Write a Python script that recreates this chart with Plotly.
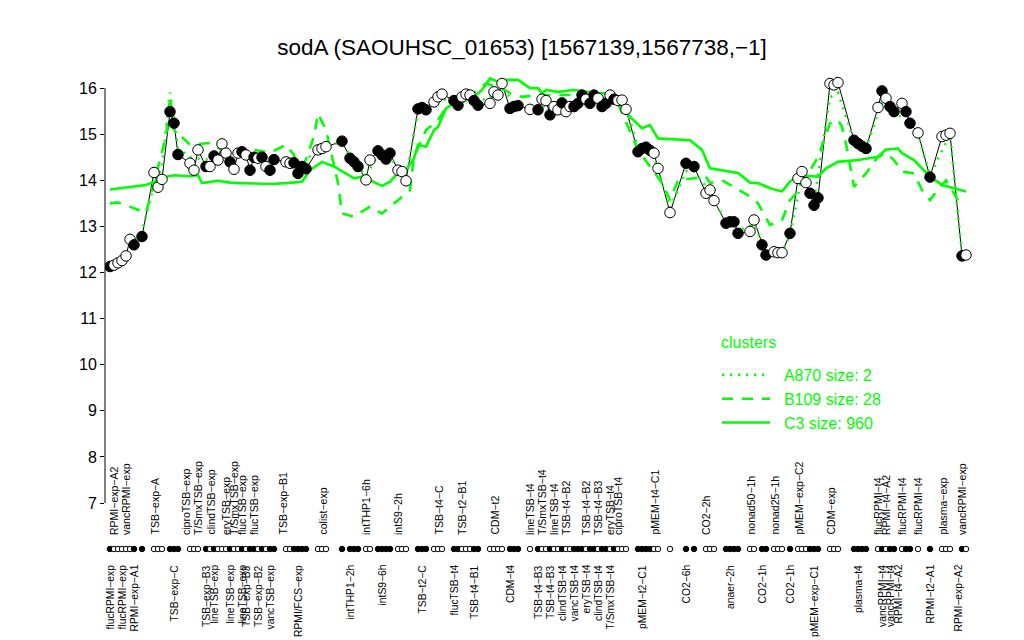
import plotly.graph_objects as go

# ---------------- data ----------------
# expression value per condition index (None = condition not shown)
values = [
    12.13, 12.16, 12.21, 12.26, 12.36, 12.72, 12.60, None, 12.78, None,
    None, 14.17, 13.85, 14.02, None, 15.49, 15.24, 14.56, None, None,
    14.37, 14.22, 14.66, None, 14.30, 14.30, 14.53, 14.44, 14.79, 14.59,
    14.40, 14.24, 14.59, 14.62, 14.55, 14.22, 14.50, 14.48, 14.50, 14.30,
    14.22, 14.45, None, None, 14.40, 14.37, 14.38, 14.15, 14.30, 14.25,
    None, None, 14.66, 14.69, 14.73, None, None, None, 14.85, None,
    14.48, 14.40, 14.30, None, 14.01, 14.44, None, 14.64, 14.55, 14.46,
    14.59, None, 14.22, 14.19, 13.99, None, None, 15.55, 15.58, 15.53,
    None, 15.70, 15.81, 15.87, None, None, 15.73, 15.63, 15.81, 15.87,
    15.85, 15.73, 15.63, None, None, 15.67, 15.92, 15.85, 16.10, None,
    15.56, 15.60, 15.62, None, None, 15.54, None, 15.53, 15.76, 15.73,
    15.42, 15.60, 15.53, 15.68, 15.49, 15.60, 15.60, 15.67, 15.85, 15.76,
    15.67, 15.85, 15.78, 15.60, 15.67, 15.85, 15.76, 15.73, 15.74, 15.54,
    None, None, 14.62, 14.69, 14.72, 14.65, 14.59, 14.26, None, None,
    13.30, None, None, None, 14.37, None, 14.30, None, None, 13.72,
    13.79, 13.56, None, None, 13.07, 13.10, 13.10, 12.85, None, None,
    12.89, 13.14, None, 12.60, 12.38, None, 12.45, 12.43, 12.43, None,
    12.85, None, 14.04, 14.19, 13.95, 13.72, 13.46, 13.62, None, None,
    16.10, 16.07, 16.12, None, None, None, 14.87, 14.80, 14.74, 14.69,
    None, None, 15.58, 15.94, 15.78, 15.60, 15.49, None, 15.67, 15.49,
    15.24, None, 15.03, None, None, 14.07, None, None, 14.95, 14.98,
    15.02, None, None, 12.36, 12.38,
]
# 1 = filled marker, 0 = open marker
filled = [
    1, 0, 0, 0, 0, 0, 1, None, 1, None,
    None, 0, 0, 0, None, 1, 1, 1, None, None,
    0, 0, 0, None, 1, 0, 1, 0, 0, 0,
    1, 0, 0, 1, 0, 1, 1, 0, 1, 0,
    1, 1, None, None, 0, 0, 1, 1, 1, 1,
    None, None, 0, 0, 0, None, None, None, 1, None,
    1, 1, 1, None, 0, 0, None, 1, 1, 1,
    1, None, 0, 0, 0, None, None, 1, 1, 1,
    None, 0, 0, 0, None, None, 1, 1, 0, 0,
    0, 1, 1, None, None, 0, 0, 0, 0, None,
    1, 1, 1, None, None, 0, None, 1, 0, 0,
    1, 0, 0, 1, 0, 0, 1, 1, 1, 0,
    1, 1, 0, 1, 1, 0, 1, 0, 0, 0,
    None, None, 1, 1, 1, 1, 0, 0, None, None,
    0, None, None, None, 1, None, 1, None, None, 0,
    0, 0, None, None, 1, 1, 1, 1, None, None,
    0, 0, None, 1, 1, None, 0, 0, 0, None,
    1, None, 0, 0, 0, 1, 1, 1, None, None,
    0, 0, 0, None, None, None, 1, 1, 1, 1,
    None, None, 0, 1, 0, 1, 1, None, 0, 1,
    1, None, 0, None, None, 1, None, None, 0, 0,
    0, None, None, 1, 0,
]

# cluster mean profiles: condition index -> value
c3_idx = [0, 5, 9, 12, 14, 16, 20, 22, 23, 27, 30, 33, 40, 44, 48, 50, 53, 56, 58, 61, 63, 66, 68, 70, 72, 74,
          76, 77, 79, 81, 82, 84, 86, 88, 91, 93, 95, 97, 99, 102, 105, 107, 108, 109, 112, 116, 119, 122,
          126, 127, 130, 133, 135, 137, 145, 148, 150, 155, 157, 160, 162, 165, 168, 170, 172, 177, 179,
          182, 187, 192, 194, 197, 198, 201, 205, 208, 211, 214]
c3_val = [13.80, 13.85, 13.90, 14.00, 14.08, 14.11, 14.09, 14.11, 13.94, 13.99, 13.95, 13.94, 13.92, 13.94,
          13.97, 14.22, 14.40, 14.30, 14.19, 14.04, 14.08, 13.97, 13.88, 13.97, 14.16, 14.22, 14.48, 14.77,
          14.73, 15.09, 15.16, 15.56, 15.67, 15.70, 15.81, 15.96, 16.21, 16.14, 16.18, 16.18, 16.00, 16.00,
          15.89, 15.96, 15.92, 15.96, 15.92, 15.89, 15.89, 15.67, 15.38, 15.13, 15.20, 14.91, 14.87, 14.66,
          14.26, 14.19, 14.16, 13.95, 13.94, 13.83, 13.76, 13.97, 14.11, 14.08, 14.26, 14.40, 14.44, 14.51,
          14.67, 14.69, 14.59, 14.44, 14.08, 13.90, 13.83, 13.76]

b109_idx = [0, 2, 5, 9, 14, 15, 16, 17, 20, 25, 30, 33, 36, 40, 44, 46, 47, 48, 51, 52, 54, 57, 58, 61, 65,
            68, 72, 75, 76, 79, 82, 85, 88, 94, 98, 100, 103, 107, 115, 122, 127, 130, 132, 135, 138, 140,
            142, 149, 150, 153, 158, 160, 162, 165, 168, 170, 172, 177, 180, 182, 183, 184, 186, 189, 192,
            194, 196, 198, 201, 203, 205, 207, 209, 212, 213]
b109_val = [13.50, 13.52, 13.43, 13.29, 14.95, 15.80, 15.09, 15.02, 14.77, 14.81, 14.55, 14.66, 14.66, 14.60,
            14.77, 14.55, 14.07, 14.22, 14.95, 15.45, 15.09, 13.94, 13.28, 13.21, 13.43, 13.28, 13.57, 13.79,
            14.51, 15.09, 15.31, 15.70, 15.70, 16.10, 16.00, 15.89, 15.81, 15.85, 15.85, 15.82, 15.67, 15.05,
            14.66, 14.30, 13.94, 13.57, 14.00, 14.08, 13.94, 14.00, 13.76, 13.65, 13.50, 13.03, 13.14, 13.57,
            13.76, 14.51, 15.24, 15.31, 15.16, 14.80, 13.86, 14.15, 14.51, 14.59, 14.44, 14.19, 14.15, 13.79,
            13.57, 13.80, 14.00, 13.57, 13.46]

a870_idx = [0, 3, 5, 8, 11, 13, 15, 17, 20, 24, 28, 32, 36, 40, 44, 48, 52, 54, 58, 62, 64, 67, 70, 74, 77,
            82, 86, 90, 94, 98, 102, 107, 112, 117, 122, 127, 129, 132, 136, 140, 144, 146, 150, 154, 157,
            161, 164, 168, 170, 173, 176, 180, 182, 186, 189, 193, 196, 200, 202, 205, 210, 213]
a870_val = [12.05, 12.25, 12.55, 12.90, 13.90, 14.30, 15.90, 14.70, 14.50, 14.45, 14.60, 14.55, 14.50, 14.40,
            14.45, 14.30, 14.75, 14.80, 14.80, 14.30, 14.10, 14.55, 14.50, 14.05, 15.50, 15.80, 15.70, 15.80,
            15.75, 16.00, 15.60, 15.60, 15.60, 15.70, 15.75, 15.70, 15.60, 14.70, 14.50, 13.40, 14.20, 14.20,
            13.75, 13.10, 12.90, 13.05, 12.45, 12.45, 12.80, 14.10, 13.55, 15.80, 15.90, 14.85, 14.70, 15.70,
            15.50, 15.20, 15.00, 14.10, 15.00, 12.40]

# condition labels (index -> name), drawn below and above the marker strip
labels_bottom = {
    0: "flucRPMI-exp", 3: "flucRPMI-exp", 6: "RPMI-exp-A1", 16: "TSB-exp-C", 24: "TSB-exp-B3",
    26: "lineTSB-exp", 30: "lineTSB-exp", 33: "lineTSB-exp", 34: "TSB-exp-B3", 37: "TSB-exp-B2",
    40: "vancTSB-exp", 47: "RPMI/FCS-exp", 60: "intTHP1-2h", 68: "intS9-6h", 78: "TSB-t2-C",
    86: "flucTSB-t4", 91: "TSB-t4-B1", 100: "CDM-t4", 107: "TSB-t4-B3", 110: "TSB-t4-B3",
    113: "clindTSB-t4", 116: "vancTSB-t4", 119: "eryTSB-t4", 122: "clindTSB-t4", 125: "T/SmxTSB-t4",
    133: "pMEM-t2-C1", 144: "CO2-6h", 155: "anaer-2h", 163: "CO2-1h", 170: "CO2-1h",
    176: "pMEM-exp-C1", 187: "plasma-t4", 193: "vancRPMI-t4", 195: "vancRPMI-t4", 197: "RPMI-t4-A2",
    205: "RPMI-t2-A1", 212: "RPMI-exp-A2",
}
labels_top = {
    1: "RPMI-exp-A2", 4: "vancRPMI-exp", 11: "TSB-exp-A", 19: "ciproTSB-exp", 22: "T/SmxTSB-exp",
    25: "clindTSB-exp", 29: "eryTSB-exp", 31: "T/SmxTSB-exp", 33: "flucTSB-exp", 36: "flucTSB-exp",
    43: "TSB-exp-B1", 53: "colist-exp", 64: "intTHP1-6h", 72: "intS9-2h", 82: "TSB-t4-C",
    88: "TSB-t2-B1", 96: "CDM-t2", 105: "lineTSB-t4", 108: "T/SmxTSB-t4", 111: "lineTSB-t4",
    114: "TSB-t4-B2", 119: "TSB-t4-B2", 122: "TSB-t4-B3", 125: "eryTSB-t4", 127: "ciproTSB-t4",
    136: "pMEM-t4-C1", 149: "CO2-2h", 160: "nonad50-1h", 166: "nonad25-1h", 172: "pMEM-exp-C2",
    180: "CDM-exp", 192: "flucRPMI-t4", 194: "RPMI-t4-A2", 198: "flucRPMI-t4", 202: "flucRPMI-t4",
    208: "plasma-exp", 213: "vancRPMI-exp",
}

title_text = "sodA (SAOUHSC_01653) [1567139,1567738,-1]"
legend_title = "clusters"
clusters = [("A870 size: 2", "dot"), ("B109 size: 28", "dash"), ("C3 size: 960", "solid")]

# ---------------- figure ----------------
OFF = 8                 # default body margin of the html page
W, H = 1024 - OFF, 640 - OFF
GREEN = "#00ff00"
FONT = "Liberation Sans, Arial, Helvetica, sans-serif"


def fx(px):             # screen px -> paper x
    return (px - OFF) / W


def fy(py):             # screen px -> paper y
    return (H - (py - OFF)) / H


def minus(s):
    return s.replace("-", "\u2212")


idx = [i for i, v in enumerate(values) if v is not None]
yv = [values[i] for i in idx]
fills = ["black" if filled[i] else "white" for i in idx]

fig = go.Figure()

# profile line
fig.add_trace(go.Scatter(x=idx, y=yv, mode="lines", line=dict(color="black", width=1),
                         showlegend=False, hoverinfo="skip"))

dash_map = {"dot": "2px,6px", "dash": "11px,9px", "solid": "solid"}
cluster_data = {"A870 size: 2": (a870_idx, a870_val),
                "B109 size: 28": (b109_idx, b109_val),
                "C3 size: 960": (c3_idx, c3_val)}
for name, style in clusters:
    cx, cy = cluster_data[name]
    fig.add_trace(go.Scatter(x=cx, y=cy, mode="lines", name="\u00a0\u00a0" + name,
                             line=dict(color=GREEN, width=2.6, dash=dash_map[style])))

# markers
fig.add_trace(go.Scatter(x=idx, y=yv, mode="markers", showlegend=False,
                         marker=dict(size=10.5, color=fills, line=dict(color="black", width=1))))

# strip of markers under the plot
fig.add_trace(go.Scatter(x=idx, y=[0.5] * len(idx), yaxis="y2", mode="markers", showlegend=False,
                         marker=dict(size=5.5, color=fills, line=dict(color="black", width=1))))

px_l, px_r = 105, 972
x0_px, step = 110, 4.0
n = len(values)
xr = [-(x0_px - px_l) / step, (n - 1) + (px_r - (x0_px + step * (n - 1))) / step]

ann = []
for i, t in labels_bottom.items():
    ann.append(dict(x=i, y=fy(563), xref="x", yref="paper", text=minus(t), textangle=-90,
                    showarrow=False, xanchor="center", yanchor="top",
                    font=dict(size=10.3, color="black", family=FONT)))
for i, t in labels_top.items():
    ann.append(dict(x=i, y=fy(537), xref="x", yref="paper", text=minus(t), textangle=-90,
                    showarrow=False, xanchor="center", yanchor="bottom",
                    font=dict(size=10.5, color="black", family=FONT)))
ann.append(dict(x=fx(719), y=fy(343), xref="paper", yref="paper", text=legend_title, showarrow=False,
                xanchor="left", yanchor="middle", font=dict(size=16, color=GREEN, family=FONT)))

fig.update_layout(
    width=W, height=H,
    margin=dict(l=0, r=0, t=0, b=0),
    paper_bgcolor="white", plot_bgcolor="white",
    font=dict(family=FONT, color="black"),
    title=dict(text=minus(title_text), x=fx(522), xanchor="center", y=fy(47), yanchor="middle",
               font=dict(size=22.5, color="black", family=FONT)),
    xaxis=dict(domain=[fx(px_l), fx(px_r)], range=xr, visible=False, showgrid=False, zeroline=False),
    yaxis=dict(domain=[fy(503), fy(72)], range=[7, 16.35], tickvals=list(range(7, 17)),
               ticks="outside", ticklen=4, tickwidth=1, tickcolor="black", showgrid=False,
               zeroline=False, showline=False, tickfont=dict(size=16, family=FONT), automargin=False),
    yaxis2=dict(domain=[fy(556), fy(542)], range=[0, 1], visible=False, anchor="x"),
    legend=dict(x=fx(717), y=fy(358), xanchor="left", yanchor="top",
                font=dict(size=16, color=GREEN, family=FONT), itemwidth=48, bgcolor="rgba(0,0,0,0)",
                tracegroupgap=0),
    annotations=ann,
    shapes=[dict(type="line", xref="paper", yref="y", x0=fx(px_l), x1=fx(px_l), y0=7, y1=16,
                 line=dict(color="black", width=1))],
    showlegend=True,
)

fig.write_html("out.html")
